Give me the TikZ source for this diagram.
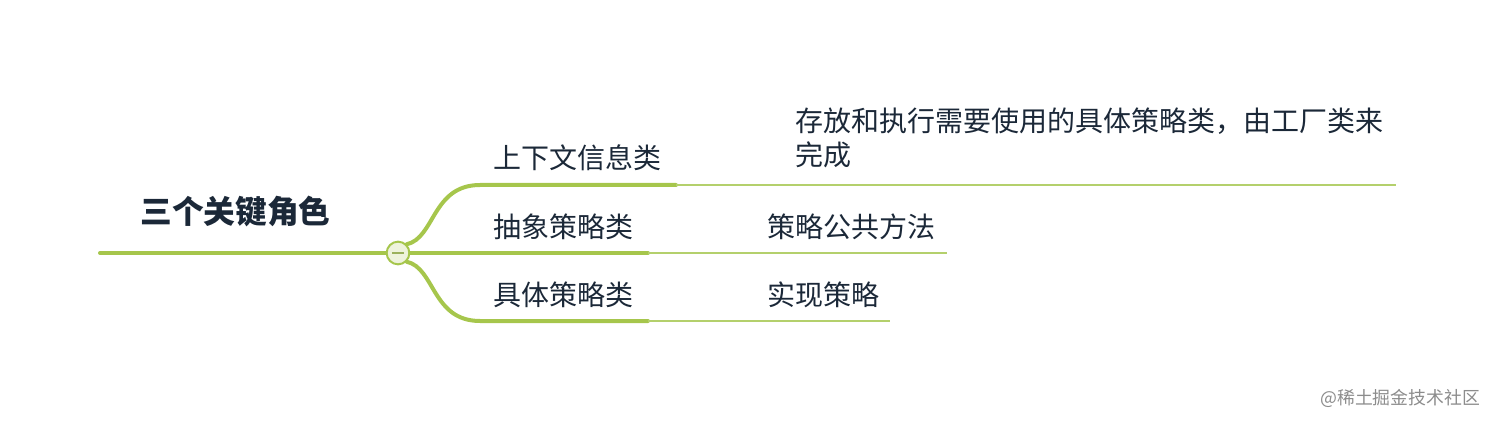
\documentclass[tikz,border=0pt]{standalone}
\usepackage{fontspec}
\newfontfamily\cjk{Noto Sans CJK SC}
\usetikzlibrary{positioning}
\definecolor{branchgreen}{HTML}{A6C64C}
\definecolor{thingreen}{HTML}{B4D06C}
\definecolor{hubfill}{HTML}{EEF3DC}
\definecolor{textnavy}{HTML}{1B2838}
\tikzstyle{topic}=[anchor=west,inner sep=0pt,text=textnavy,font=\cjk\fontsize{21pt}{25pt}\selectfont]
\tikzstyle{thick branch}=[line width=3pt,branchgreen,line cap=round]
\tikzstyle{thin branch}=[line width=1.5pt,thingreen]

\begin{document}
\begin{tikzpicture}[x=0.75pt,y=-0.75pt]
            \useasboundingbox (0,0) rectangle (1496,424);
            \def\ya{185}
            \def\yb{253}
            \def\yc{321}
            \coordinate (start) at (100,\yb);
            \coordinate (A) at (480,\ya);
            \coordinate (Aend) at (676,\ya);
            \coordinate (Atip) at (1396,\ya);
            \coordinate (Bend) at (648,\yb);
            \coordinate (Btip) at (947,\yb);
            \coordinate (C) at (480,\yc);
            \coordinate (Cend) at (648,\yc);
            \coordinate (Ctip) at (890,\yc);
            \node[topic,font=\cjk\bfseries\fontsize{23.8pt}{27pt}\selectfont] (root) at (140,212) {三个关键角色};
            \draw[thick branch] (start)--(387,\yb);
            \node[circle,draw=branchgreen,fill=hubfill,line width=1.5pt,minimum size=17pt,inner sep=0pt] (hub) at (398,\yb) {};
            \draw[line width=1.2pt,branchgreen!70!gray] ([xshift=-4.5pt]hub.center)--([xshift=4.5pt]hub.center);
            \draw[thick branch] (hub.north east) .. controls (435,238) and (432,\ya) .. (A)--(Aend);
            \draw[thick branch] (hub.east)--(Bend);
            \draw[thick branch] (hub.south east) .. controls (435,268) and (432,\yc) .. (C)--(Cend);
            \draw[thin branch] (Aend)--(Atip);
            \draw[thin branch] (Bend)--(Btip);
            \draw[thin branch] (Cend)--(Ctip);
            \node[topic] (context) at (493,158) {上下文信息类};
            \node[topic] (abstract) at (493,227) {抽象策略类};
            \node[topic] (concrete) at (493,295) {具体策略类};
            \node[topic,align=left,anchor=north west] (hold) at (795,108) {存放和执行需要使用的具体策略类，由工厂类来\\完成};
            \node[topic] (common) at (767,227) {策略公共方法};
            \node[topic] (impl) at (767,295) {实现策略};
            \node[anchor=west,inner sep=0pt,text=black!45,font=\cjk\fontsize{13.4pt}{15pt}\selectfont] (mark) at (1320,398) {@稀土掘金技术社区};
        \end{tikzpicture}
\end{document}
